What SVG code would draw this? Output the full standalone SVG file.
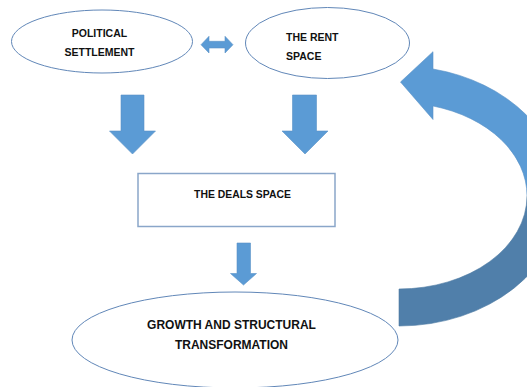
<svg xmlns="http://www.w3.org/2000/svg" width="527" height="387" viewBox="0 0 527 387">
  <style>
    .shape { fill: #ffffff; stroke: #6187b8; stroke-width: 1; }
    .box { fill: #ffffff; stroke: #8aa6c9; stroke-width: 1.5; }
    .arrow { fill: #5b9bd5; stroke: #5a92c6; stroke-width: 0.6; }
    .arrow-dark { fill: #507faa; stroke: #4d7aa3; stroke-width: 0.6; }
    .label { font-family: "Liberation Sans", Arial, sans-serif; font-weight: bold; fill: #111111; }
  </style>
  <rect width="527" height="387" fill="#ffffff"/>

  <!-- nodes -->
  <g id="political-settlement">
    <ellipse class="shape" cx="102" cy="41.5" rx="90.5" ry="31.5"/>
    <text class="label" font-size="10.5" text-anchor="middle" x="99.5" y="37">POLITICAL</text>
    <text class="label" font-size="10.5" text-anchor="middle" x="99.5" y="56">SETTLEMENT</text>
  </g>

  <g id="rent-space">
    <ellipse class="shape" cx="327.5" cy="43" rx="82" ry="35.5"/>
    <text class="label" font-size="10.5" x="286" y="41">THE RENT</text>
    <text class="label" font-size="10.5" x="286" y="60">SPACE</text>
  </g>

  <g id="deals-space">
    <rect class="box" x="138" y="173.5" width="197" height="53"/>
    <text class="label" font-size="10.4" text-anchor="middle" x="242.5" y="198">THE DEALS SPACE</text>
  </g>

  <g id="growth">
    <ellipse class="shape" cx="235" cy="340" rx="163" ry="48"/>
    <text class="label" font-size="12" text-anchor="middle" x="231.5" y="329">GROWTH AND STRUCTURAL</text>
    <text class="label" font-size="12" text-anchor="middle" x="231.5" y="349">TRANSFORMATION</text>
  </g>

  <!-- connectors -->
  <g id="connectors">
    <!-- two-way link between the top nodes -->
    <path class="arrow" d="M201,44.7 L209,36.3 L209,41.3 L225,41.3 L225,36.3 L233,44.7 L225,53 L225,48 L209,48 L209,53 Z"/>
    <!-- downward block arrows -->
    <path class="arrow" d="M121,95 L144,95 L144,131 L155.5,131 L132.5,154 L109.5,131 L121,131 Z"/>
    <path class="arrow" d="M292.5,95 L316.5,95 L316.5,131 L328,131 L305,154 L282,131 L292.5,131 Z"/>
    <path class="arrow" d="M237,243 L250.5,243 L250.5,273.5 L256.5,273.5 L243.5,285 L230.5,273.5 L237,273.5 Z"/>
    <!-- feedback loop: curved arrow back up to the rent space -->
    <path class="arrow-dark" d="M562,196 A163,130 0 0 1 399,326 L399,289 A128,93 0 0 0 527,196 Z"/>
    <path class="arrow" d="M433,69 A163,130 0 0 1 562,196 L527,196 A128,93 0 0 0 433,106 L433,119.5 L400.5,82 L433,51.7 Z"/>
  </g>
</svg>
